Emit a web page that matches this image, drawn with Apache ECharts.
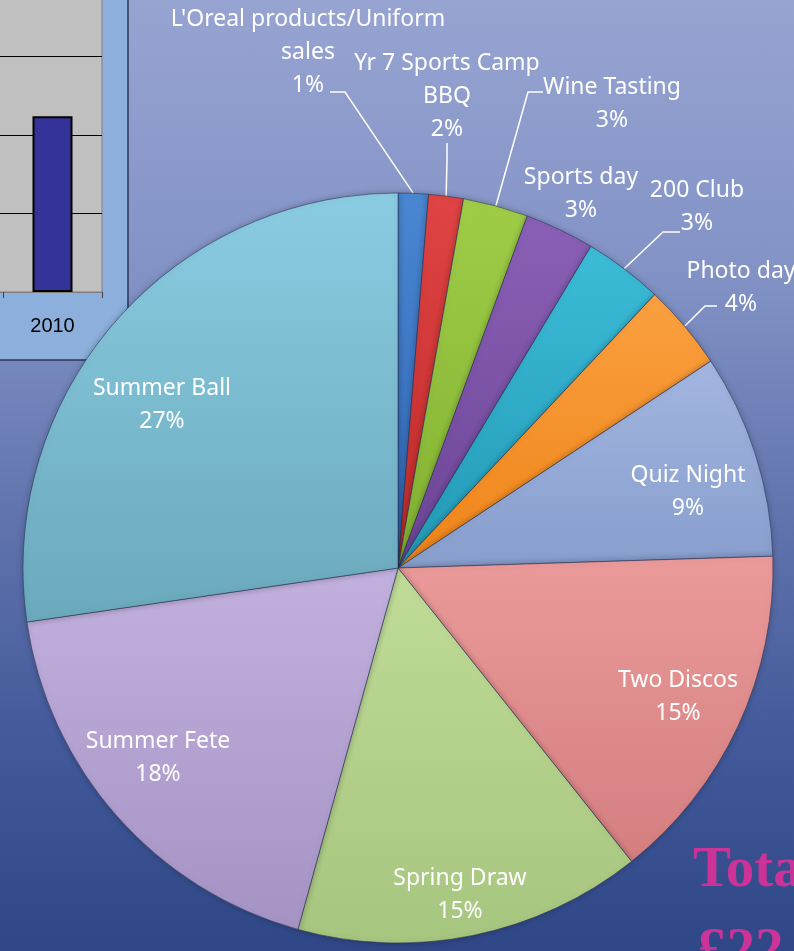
<!DOCTYPE html>
<html>
<head>
<meta charset="utf-8">
<script src="https://cdn.jsdelivr.net/npm/echarts@6/dist/echarts.min.js"></script>
<style>
  html, body { margin: 0; padding: 0; }
  #chart {
    width: 794px; height: 951px;
    background: linear-gradient(to bottom, #97a4d2 0%, #8393c6 28%, #6073ad 55%, #42599a 78%, #2f4786 100%);
  }
</style>
</head>
<body>
<div id="chart"></div>
<script>
// ---------- data ----------
const categories = [
  "L'Oreal products/Uniform\nsales",
  "Yr 7 Sports Camp\nBBQ",
  "Wine Tasting",
  "Sports day",
  "200 Club",
  "Photo day",
  "Quiz Night",
  "Two Discos",
  "Spring Draw",
  "Summer Fete",
  "Summer Ball"
];
const shares = [1.3, 1.5, 2.8, 3.0, 3.4, 3.7, 8.8, 14.8, 15.0, 18.4, 27.3];

const barCategories = ['2009', '2010'];
const barValues = [null, 22400];

const totalTitle = 'Total';
const totalValue = '£22';

// ---------- styling / layout (not data) ----------
const sliceColors = [
  ['#4a86d2', '#2f66b4'],
  ['#e04444', '#bf2a2a'],
  ['#9fcd48', '#82b132'],
  ['#8a60b6', '#6c4596'],
  ['#3cbcd8', '#2299b6'],
  ['#fba040', '#ee8418'],
  ['#a2b6e0', '#879dcc'],
  ['#eb9a9a', '#d47e80'],
  ['#c0dc98', '#a6c57e'],
  ['#c2b0de', '#a593c4'],
  ['#8acce2', '#6ba9bc']
];
// label centres
const labelPos = [
  [308, 52], [447, 96], [612, 104], [581, 194], [697, 207], [741, 288],
  [688, 492], [678, 697], [460, 895], [158, 758], [162, 405]
];
// leader lines: [turn point, end point] (first point from slice edge)
const leaders = {
  0: [[345, 92], [330, 92]],
  1: [[447, 160], [447, 143]],
  2: [[528, 92], [543, 92]],
  4: [[663, 232], [680, 232]],
  5: [[705, 306], [717, 306]]
};

const chart = echarts.init(document.getElementById('chart'), null, { renderer: 'canvas' });

const pieData = categories.map((name, i) => ({
  name: name,
  value: shares[i],
  itemStyle: {
    color: new echarts.graphic.LinearGradient(0, 0, 0, 1, [
      { offset: 0, color: sliceColors[i][0] },
      { offset: 1, color: sliceColors[i][1] }
    ])
  },
  label: { position: leaders[i] || i === 3 ? 'outside' : 'inside' },
  labelLine: { show: !!leaders[i] }
}));

const option = {
  backgroundColor: 'transparent',
  animation: false,
  graphic: [
    {
      type: 'rect', z: -5,
      shape: { x: -10, y: -10, width: 138, height: 370 },
      style: { fill: '#8cafdc', stroke: '#2c3658', lineWidth: 1.5 }
    },
    {
      type: 'text', z: 10,
      style: {
        x: 693, y: 871, text: totalTitle,
        font: 'bold 57px "Liberation Serif"', fill: '#cc3399',
        textAlign: 'left', textVerticalAlign: 'middle'
      }
    },
    {
      type: 'text', z: 10,
      style: {
        x: 698, y: 952, text: totalValue,
        font: 'bold 57px "Liberation Serif"', fill: '#cc3399',
        textAlign: 'left', textVerticalAlign: 'middle'
      }
    }
  ],
  grid: {
    left: -96, right: 692, top: -22, bottom: 659,
    outerBoundsMode: 'none', containLabel: false,
    show: true, backgroundColor: '#c0c0c0', borderColor: '#808080', borderWidth: 1
  },
  xAxis: {
    type: 'category', data: barCategories,
    axisLine: { show: true, lineStyle: { color: '#808080', width: 1 } },
    axisTick: { show: true, length: 6, lineStyle: { color: '#404040' } },
    axisLabel: { color: '#000', fontFamily: 'Liberation Sans', fontSize: 20, margin: 24 }
  },
  yAxis: {
    type: 'value', min: 0, max: 40000, interval: 10000,
    axisLabel: { show: false },
    axisLine: { show: false }, axisTick: { show: false },
    splitLine: { show: true, lineStyle: { color: '#000', width: 1 } }
  },
  series: [
    {
      type: 'bar', data: barValues, barWidth: 40,
      itemStyle: { color: '#333399', borderColor: '#000', borderWidth: 2 }
    },
    {
      type: 'pie',
      center: [398, 568],
      radius: 375,
      startAngle: 90,
      clockwise: true,
      avoidLabelOverlap: false,
      z: 5,
      data: pieData,
      itemStyle: {
        borderColor: 'rgba(40,50,80,0.55)', borderWidth: 1,
        shadowBlur: 6, shadowColor: 'rgba(0,0,0,0.25)'
      },
      label: {
        show: true, color: '#fff',
        fontFamily: 'Noto Sans', fontSize: 23, lineHeight: 33,
        align: 'center',
        formatter: p => p.name + '\n' + Math.round(p.percent) + '%'
      },
      labelLine: { lineStyle: { color: '#fff', width: 1.5 }, length: 20, length2: 10 },
      labelLayout: function (params) {
        const i = params.dataIndex;
        const res = { x: labelPos[i][0], y: labelPos[i][1], align: 'center', verticalAlign: 'middle' };
        if (leaders[i] && params.labelLinePoints) {
          res.labelLinePoints = [params.labelLinePoints[0], leaders[i][0], leaders[i][1]];
        }
        return res;
      }
    }
  ]
};

chart.setOption(option);
</script>
</body>
</html>
